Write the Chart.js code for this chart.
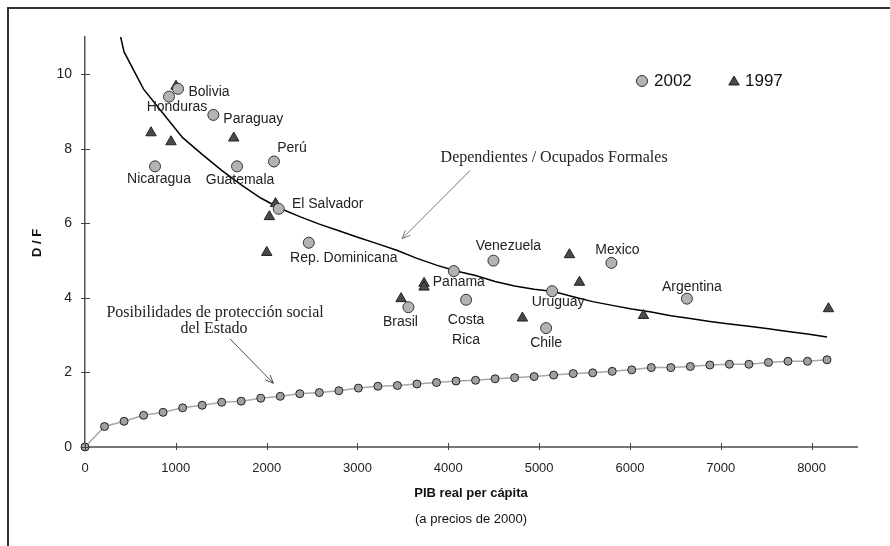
<!DOCTYPE html>
<html>
<head>
<meta charset="utf-8">
<script src="https://cdn.jsdelivr.net/npm/chart.js@4.4.0/dist/chart.umd.min.js"></script>
<style>
  html, body { margin: 0; padding: 0; background: #fff; }
  #wrap { width: 890px; height: 546px; }
</style>
</head>
<body>
<div id="wrap"><canvas id="dfChart" width="890" height="546"></canvas></div>
<script>
// D/F por pais, 2002 y 1997 (PIB real per capita a precios de 2000)
const paises = ["Bolivia", "Honduras", "Paraguay", "Perú", "Nicaragua", "Guatemala", "El Salvador",
    "Rep. Dominicana", "Panama", "Brasil", "Venezuela", "Mexico", "Costa\nRica", "Uruguay", "Chile", "Argentina"];
const pib2002 = [1024, 925, 1413, 2081, 771, 1674, 2133, 2464, 4061, 3561, 4497, 5796, 4196, 5143, 5077, 6627];
const df2002 = [9.61, 9.40, 8.91, 7.66, 7.53, 7.53, 6.39, 5.48, 4.72, 3.75, 5.00, 4.94, 3.95, 4.18, 3.19, 3.98];

const pib1997 = [1002, 727, 947, 1638, 2098, 2030, 2001, 3733, 3733, 3480, 5334, 5444, 4816, 6149, 8186];
const df1997 = [9.68, 8.43, 8.19, 8.29, 6.53, 6.18, 5.22, 4.39, 4.29, 3.98, 5.16, 4.42, 3.46, 3.53, 3.71];

// curvas de referencia
const pibCurva = [0, 215, 430, 645, 860, 1075, 1290, 1505, 1720, 1935, 2150, 2365, 2580, 2795, 3010, 3225,
    3440, 3655, 3870, 4085, 4300, 4515, 4730, 4945, 5160, 5375, 5590, 5805, 6020, 6235, 6450, 6665, 6880,
    7095, 7310, 7525, 7740, 7955, 8170];
const dependientes = [null, 12.9, 10.6, 9.6, 8.95, 8.3, 7.85, 7.42, 7.03, 6.68, 6.40, 6.18, 5.98, 5.80, 5.62,
    5.45, 5.27, 5.06, 4.88, 4.72, 4.60, 4.44, 4.32, 4.23, 4.17, 4.03, 3.90, 3.80, 3.70, 3.62, 3.52, 3.45,
    3.37, 3.30, 3.24, 3.17, 3.10, 3.03, 2.95];
const proteccion = [0, 0.55, 0.69, 0.85, 0.93, 1.05, 1.12, 1.20, 1.23, 1.31, 1.36, 1.43, 1.46, 1.51, 1.58,
    1.63, 1.65, 1.69, 1.73, 1.77, 1.79, 1.83, 1.86, 1.89, 1.93, 1.97, 1.99, 2.03, 2.07, 2.13, 2.13, 2.16,
    2.20, 2.22, 2.22, 2.27, 2.30, 2.30, 2.34];

const xTicks = [0, 1000, 2000, 3000, 4000, 5000, 6000, 7000, 8000];
const yTicks = [0, 2, 4, 6, 8, 10];

const SANS = "'Liberation Sans', Arial, sans-serif";
const SERIF = "'Liberation Serif', 'Times New Roman', serif";

function pares(xs, ys) {
    const out = [];
    xs.forEach(function (x, i) {
        if (ys[i] !== null) out.push({ x: x, y: ys[i] });
    });
    return out;
}

// desplazamiento de cada etiqueta respecto a su punto 2002 (px)
const labelOffsets = [[31, 3], [8, 11], [40, 4], [18, -13], [4, 13], [3, 14], [49, -5], [35, 15],
    [5, 11], [-8, 15], [15, -14], [6, -13], [0, 20], [6, 11], [0, 15], [5, -12]];

function arrow(ctx, x1, y1, x2, y2, color, width) {
    const ang = Math.atan2(y2 - y1, x2 - x1);
    const len = 9;
    ctx.save();
    ctx.strokeStyle = color;
    ctx.lineWidth = width;
    ctx.beginPath();
    ctx.moveTo(x1, y1);
    ctx.lineTo(x2, y2);
    ctx.moveTo(x2 - len * Math.cos(ang - 0.4), y2 - len * Math.sin(ang - 0.4));
    ctx.lineTo(x2, y2);
    ctx.lineTo(x2 - len * Math.cos(ang + 0.4), y2 - len * Math.sin(ang + 0.4));
    ctx.stroke();
    ctx.restore();
}

const decor = {
    id: "decor",
    afterDraw: function (chart) {
        const ctx = chart.ctx;
        const xs = chart.scales.x;
        const ys = chart.scales.y;
        const area = chart.chartArea;

        // marco
        ctx.save();
        ctx.strokeStyle = "#333";
        ctx.lineWidth = 2;
        ctx.strokeRect(8, 8, 920, 600);

        // marcas de los ejes
        ctx.strokeStyle = "#444";
        ctx.lineWidth = 1;
        ctx.beginPath();
        xTicks.forEach(function (v) {
            const px = Math.round(xs.getPixelForValue(v)) + 0.5;
            ctx.moveTo(px, area.bottom - 4);
            ctx.lineTo(px, area.bottom + 3);
        });
        yTicks.forEach(function (v) {
            const py = Math.round(ys.getPixelForValue(v)) + 0.5;
            ctx.moveTo(area.left - 4, py);
            ctx.lineTo(area.left + 5, py);
        });
        ctx.stroke();

        // titulos de ejes
        ctx.fillStyle = "#111";
        ctx.textAlign = "center";
        ctx.textBaseline = "middle";
        ctx.font = "bold 13px " + SANS;
        ctx.fillText("PIB real per cápita", (area.left + area.right) / 2, 493);
        ctx.font = "13px " + SANS;
        ctx.fillText("(a precios de 2000)", (area.left + area.right) / 2, 519);
        ctx.save();
        ctx.translate(37, 243);
        ctx.rotate(-Math.PI / 2);
        ctx.font = "bold 13px " + SANS;
        ctx.fillText("D / F", 0, 0);
        ctx.restore();

        // etiquetas de paises
        const meta = chart.getDatasetMeta(2);
        ctx.font = "14px " + SANS;
        ctx.fillStyle = "#222";
        paises.forEach(function (name, i) {
            const pt = meta.data[i];
            const off = labelOffsets[i];
            name.split("\n").forEach(function (line, k) {
                ctx.fillText(line, pt.x + off[0], pt.y + off[1] + k * 20);
            });
        });

        // anotaciones
        ctx.font = "16px " + SERIF;
        ctx.fillStyle = "#222";
        ctx.fillText("Dependientes / Ocupados Formales", xs.getPixelForValue(5165), ys.getPixelForValue(7.75));
        arrow(ctx, xs.getPixelForValue(4240), ys.getPixelForValue(7.42),
            xs.getPixelForValue(3491), ys.getPixelForValue(5.59), "#777", 1);
        ctx.fillText("Posibilidades de protección social", xs.getPixelForValue(1432), ys.getPixelForValue(3.61));
        ctx.fillText("del Estado", xs.getPixelForValue(1420), ys.getPixelForValue(3.17));
        arrow(ctx, xs.getPixelForValue(1597), ys.getPixelForValue(2.90),
            xs.getPixelForValue(2074), ys.getPixelForValue(1.71), "#222", 0.8);
        ctx.restore();

        // leyenda
        ctx.save();
        ctx.fillStyle = "#b3b3b3";
        ctx.strokeStyle = "#333";
        ctx.lineWidth = 1;
        Chart.helpers.drawPoint(ctx, { pointStyle: "circle", radius: 5.5, borderWidth: 1 }, 642, 81);
        ctx.fillStyle = "#4a4a4a";
        ctx.strokeStyle = "#222";
        Chart.helpers.drawPoint(ctx, { pointStyle: "triangle", radius: 6, borderWidth: 1 }, 734, 82);
        ctx.fillStyle = "#111";
        ctx.font = "17px " + SANS;
        ctx.textAlign = "left";
        ctx.textBaseline = "middle";
        ctx.fillText("2002", 654, 81);
        ctx.fillText("1997", 745, 81);
        ctx.restore();
    }
};

new Chart(document.getElementById("dfChart"), {
    type: "scatter",
    data: {
        datasets: [
            {
                label: "Dependientes / Ocupados Formales",
                data: pares(pibCurva, dependientes),
                showLine: true,
                borderColor: "#000",
                borderWidth: 1.5,
                pointRadius: 0,
                tension: 0,
                clip: 0,
                order: 4,
            },
            {
                label: "Posibilidades de protección social del Estado",
                data: pares(pibCurva, proteccion),
                showLine: true,
                borderColor: "#a8a8a8",
                borderWidth: 1.5,
                pointRadius: 4,
                pointBackgroundColor: "#a0a0a0",
                pointBorderColor: "#222",
                pointBorderWidth: 1,
                clip: false,
                order: 3,
            },
            {
                label: "2002",
                data: pares(pib2002, df2002),
                pointStyle: "circle",
                pointRadius: 5.5,
                pointBackgroundColor: "#b3b3b3",
                pointBorderColor: "#333",
                pointBorderWidth: 1,
                order: 1,
            },
            {
                label: "1997",
                data: pares(pib1997, df1997),
                pointStyle: "triangle",
                pointRadius: 6,
                pointBackgroundColor: "#4a4a4a",
                pointBorderColor: "#222",
                pointBorderWidth: 1,
                order: 2,
            },
        ],
    },
    options: {
        responsive: false,
        animation: false,
        layout: { padding: { top: 37, right: 33, left: 0, bottom: 0 } },
        plugins: {
            legend: { display: false },
            tooltip: { enabled: false },
        },
        scales: {
            x: {
                type: "linear",
                min: 0,
                max: 8500,
                afterBuildTicks: function (scale) {
                    scale.ticks = xTicks.map(function (v) { return { value: v }; });
                },
                afterFit: function (scale) { scale.height = 99; },
                grid: { display: false, drawTicks: false },
                border: { display: true, color: "#777", width: 2 },
                ticks: {
                    padding: 14,
                    color: "#222",
                    font: { family: SANS, size: 13 },
                    maxRotation: 0,
                    callback: function (v) { return String(v); },
                },
            },
            y: {
                type: "linear",
                min: 0,
                max: 11,
                afterBuildTicks: function (scale) {
                    scale.ticks = yTicks.map(function (v) { return { value: v }; });
                },
                afterFit: function (scale) { scale.width = 85; },
                grid: { display: false, drawTicks: false },
                border: { display: true, color: "#555", width: 1.5 },
                ticks: {
                    padding: 13,
                    color: "#222",
                    font: { family: SANS, size: 14 },
                    callback: function (v) { return String(v); },
                },
            },
        },
    },
    plugins: [decor],
});
</script>
</body>
</html>
